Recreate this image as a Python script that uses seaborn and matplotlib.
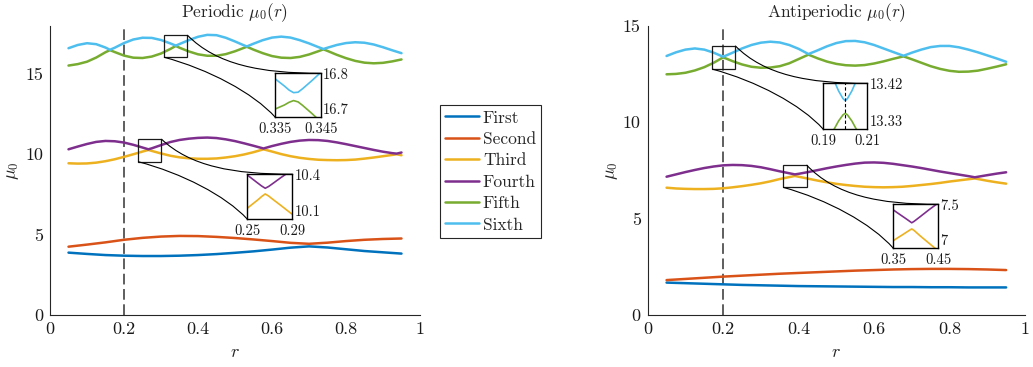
import matplotlib
matplotlib.use("Agg")
import matplotlib.pyplot as plt
import seaborn as sns
import pandas as pd
from matplotlib.path import Path
from matplotlib.patches import PathPatch, Rectangle
from matplotlib.lines import Line2D

# ---------------- data ----------------
BANDS = ["First", "Second", "Third", "Fourth", "Fifth", "Sixth"]
COLORS = ["#0072BD", "#D95319", "#EDB120", "#7E2F8E", "#77AC30", "#4DBEEE"]

XTICKS = [0, 0.2, 0.4, 0.6, 0.8, 1]
XTICK_LABELS = ["0", "0.2", "0.4", "0.6", "0.8", "1"]
YTICKS = [0, 5, 10, 15]
YTICK_LABELS = ["0", "5", "10", "15"]

r_slow = [0.05, 0.10, 0.15, 0.20, 0.25, 0.30, 0.35, 0.40, 0.45, 0.50,
          0.55, 0.60, 0.65, 0.70, 0.75, 0.80, 0.85, 0.90, 0.95]

# Periodic
per_first = [3.88, 3.80, 3.73, 3.69, 3.67, 3.67, 3.69, 3.73, 3.79, 3.87,
             3.96, 4.07, 4.19, 4.27, 4.20, 4.09, 3.98, 3.90, 3.82]
per_second = [4.25, 4.38, 4.52, 4.68, 4.80, 4.88, 4.92, 4.91, 4.86, 4.79,
              4.70, 4.60, 4.49, 4.43, 4.50, 4.60, 4.68, 4.73, 4.76]

r_per34 = [0.05, 0.075, 0.1, 0.125, 0.15, 0.175, 0.2, 0.225, 0.25, 0.266,
           0.275, 0.3, 0.325, 0.35, 0.375, 0.4, 0.425, 0.45, 0.475, 0.5,
           0.525, 0.55, 0.577, 0.6, 0.625, 0.65, 0.675, 0.7, 0.725, 0.75,
           0.775, 0.8, 0.825, 0.85, 0.875, 0.9, 0.925, 0.937, 0.95]
per_third = [9.44, 9.42, 9.43, 9.48, 9.57, 9.69, 9.84, 10.00, 10.17, 10.27,
             10.21, 10.05, 9.91, 9.81, 9.75, 9.72, 9.72, 9.74, 9.80, 9.88,
             9.99, 10.13, 10.31, 10.17, 10.01, 9.88, 9.78, 9.71, 9.66, 9.64,
             9.63, 9.64, 9.67, 9.73, 9.80, 9.88, 9.96, 10.00, 9.94]
per_fourth = [10.31, 10.48, 10.64, 10.77, 10.83, 10.81, 10.73, 10.59, 10.42, 10.31,
              10.37, 10.57, 10.76, 10.89, 10.97, 11.02, 11.04, 11.01, 10.93, 10.82,
              10.68, 10.53, 10.36, 10.51, 10.65, 10.77, 10.85, 10.89, 10.88, 10.83,
              10.74, 10.63, 10.51, 10.39, 10.27, 10.16, 10.07, 10.04, 10.11]

r_per56 = [0.05, 0.075, 0.1, 0.125, 0.15, 0.162, 0.175, 0.2, 0.225, 0.25,
           0.275, 0.3, 0.325, 0.34, 0.35, 0.375, 0.4, 0.425, 0.45, 0.475,
           0.5, 0.525, 0.532, 0.55, 0.575, 0.6, 0.625, 0.65, 0.675, 0.7,
           0.725, 0.739, 0.75, 0.775, 0.8, 0.825, 0.85, 0.875, 0.9, 0.925, 0.95]
per_fifth = [15.52, 15.61, 15.76, 16.02, 16.35, 16.48, 16.36, 16.14, 16.01, 15.99,
             16.08, 16.27, 16.55, 16.74, 16.63, 16.40, 16.22, 16.13, 16.13, 16.23,
             16.41, 16.63, 16.69, 16.51, 16.29, 16.11, 16.01, 15.99, 16.06, 16.21,
             16.41, 16.53, 16.43, 16.19, 15.98, 15.81, 15.70, 15.66, 15.69, 15.78, 15.90]
per_sixth = [16.60, 16.80, 16.91, 16.85, 16.64, 16.50, 16.63, 16.92, 17.14, 17.25,
             17.24, 17.11, 16.90, 16.76, 16.86, 17.10, 17.31, 17.43, 17.41, 17.25,
             17.02, 16.77, 16.71, 16.88, 17.10, 17.26, 17.32, 17.26, 17.10, 16.90,
             16.67, 16.55, 16.63, 16.80, 16.92, 16.97, 16.94, 16.83, 16.66, 16.47, 16.29]

# Antiperiodic
anti_first = [1.68, 1.65, 1.62, 1.59, 1.56, 1.54, 1.52, 1.50, 1.49, 1.48,
              1.47, 1.46, 1.45, 1.45, 1.44, 1.44, 1.43, 1.43, 1.43]
anti_second = [1.81, 1.87, 1.93, 1.99, 2.04, 2.09, 2.14, 2.18, 2.22, 2.26,
               2.30, 2.33, 2.36, 2.38, 2.39, 2.39, 2.38, 2.36, 2.33]

r_anti34 = [0.05, 0.075, 0.1, 0.125, 0.15, 0.175, 0.2, 0.225, 0.25, 0.275,
            0.3, 0.325, 0.35, 0.375, 0.39, 0.4, 0.425, 0.45, 0.475, 0.5,
            0.525, 0.55, 0.575, 0.6, 0.625, 0.65, 0.675, 0.7, 0.725, 0.75,
            0.775, 0.8, 0.825, 0.85, 0.867, 0.9, 0.925, 0.95]
anti_third = [6.60, 6.56, 6.54, 6.53, 6.53, 6.54, 6.57, 6.62, 6.68, 6.75,
              6.83, 6.93, 7.05, 7.15, 7.21, 7.17, 7.07, 6.97, 6.88, 6.80,
              6.74, 6.69, 6.65, 6.63, 6.62, 6.63, 6.65, 6.69, 6.74, 6.79,
              6.85, 6.92, 6.98, 7.04, 7.08, 6.96, 6.88, 6.81]
anti_fourth = [7.17, 7.29, 7.41, 7.52, 7.62, 7.70, 7.76, 7.78, 7.77, 7.73,
               7.66, 7.56, 7.45, 7.35, 7.29, 7.32, 7.41, 7.51, 7.61, 7.70,
               7.78, 7.85, 7.90, 7.91, 7.89, 7.84, 7.77, 7.70, 7.62, 7.53,
               7.44, 7.36, 7.28, 7.20, 7.14, 7.25, 7.33, 7.40]

r_anti56 = [0.05, 0.075, 0.1, 0.125, 0.15, 0.175, 0.2, 0.225, 0.25, 0.275,
            0.3, 0.325, 0.35, 0.375, 0.4, 0.426, 0.45, 0.475, 0.5, 0.525,
            0.55, 0.575, 0.6, 0.625, 0.65, 0.678, 0.7, 0.725, 0.75, 0.775,
            0.8, 0.825, 0.85, 0.875, 0.9, 0.925, 0.95]
anti_fifth = [12.48, 12.50, 12.56, 12.68, 12.85, 13.08, 13.36, 13.16, 12.99, 12.87,
              12.82, 12.83, 12.90, 13.05, 13.27, 13.50, 13.31, 13.14, 13.02, 12.95,
              12.93, 12.96, 13.04, 13.15, 13.28, 13.41, 13.26, 13.08, 12.90, 12.76,
              12.66, 12.61, 12.62, 12.67, 12.77, 12.88, 13.00]
anti_sixth = [13.43, 13.62, 13.76, 13.82, 13.76, 13.60, 13.39, 13.60, 13.82, 14.00,
              14.12, 14.17, 14.13, 14.00, 13.80, 13.53, 13.72, 13.93, 14.10, 14.20,
              14.21, 14.14, 14.00, 13.82, 13.64, 13.44, 13.60, 13.76, 13.89, 13.95,
              13.95, 13.88, 13.76, 13.62, 13.46, 13.30, 13.13]

# Zoomed insets
ins_per34_r = [0.25, 0.255, 0.26, 0.263, 0.266, 0.269, 0.272, 0.28, 0.29]
ins_per34_third = [10.172, 10.202, 10.232, 10.252, 10.268, 10.254, 10.236, 10.19, 10.131]
ins_per34_fourth = [10.395, 10.366, 10.337, 10.320, 10.306, 10.318, 10.334, 10.378, 10.43]
ins_per34_xlab = ["0.25", "0.29"]
ins_per34_ylab = ["10.1", "10.4"]

ins_per56_r = [0.335, 0.337, 0.338, 0.339, 0.340, 0.341, 0.343, 0.345]
ins_per56_fifth = [16.719, 16.728, 16.734, 16.738, 16.735, 16.727, 16.709, 16.69]
ins_per56_sixth = [16.787, 16.771, 16.762, 16.756, 16.757, 16.765, 16.783, 16.802]
ins_per56_xlab = ["0.335", "0.345"]
ins_per56_ylab = ["16.7", "16.8"]

ins_anti34_r = [0.35, 0.36, 0.37, 0.38, 0.386, 0.391, 0.396, 0.41, 0.43, 0.45]
ins_anti34_third = [7.087, 7.12, 7.152, 7.185, 7.205, 7.22, 7.204, 7.14, 7.055, 6.97]
ins_anti34_fourth = [7.436, 7.40, 7.365, 7.33, 7.308, 7.29, 7.305, 7.36, 7.44, 7.515]
ins_anti34_xlab = ["0.35", "0.45"]
ins_anti34_ylab = ["7", "7.5"]

ins_anti56_r = [0.19, 0.195, 0.197, 0.199, 0.2, 0.201, 0.203, 0.205, 0.21]
ins_anti56_fifth = [13.29, 13.33, 13.346, 13.358, 13.361, 13.358, 13.346, 13.33, 13.29]
ins_anti56_sixth = [13.47, 13.425, 13.405, 13.39, 13.386, 13.39, 13.405, 13.425, 13.47]
ins_anti56_xlab = ["0.19", "0.21"]
ins_anti56_ylab = ["13.33", "13.42"]

R_MARK = 0.2

# ---------------- style ----------------
sns.set_theme(style="white")
plt.rcParams["font.family"] = ["cmr10", "DejaVu Serif"]
plt.rcParams["mathtext.fontset"] = "cm"
plt.rcParams["axes.formatter.use_mathtext"] = True
plt.rcParams["axes.unicode_minus"] = False

AXC = "0.15"
LW = 1.8

fig = plt.figure(figsize=(10.33, 3.67), dpi=100)
W, H = 1033, 367
axL = fig.add_axes([50 / W, 1 - 315 / H, 370 / W, 289.3 / H])
axR = fig.add_axes([647.7 / W, 1 - 315 / H, 377.3 / W, 289.3 / H])


def long_df(parts):
    frames = []
    for band, r, mu in parts:
        frames.append(pd.DataFrame({"r": r, "mu": mu, "band": band}))
    return pd.concat(frames, ignore_index=True)


def draw_panel(ax, df, ymax, title, ylabpad):
    sns.lineplot(data=df, x="r", y="mu", hue="band", hue_order=BANDS,
                 palette=dict(zip(BANDS, COLORS)), estimator=None, sort=True,
                 lw=LW, legend=False, ax=ax, zorder=3)
    ax.axvline(R_MARK, color="0.2", lw=1.1, ls=(0, (7, 3)), zorder=2)
    ax.set_xlim(0, 1)
    ax.set_ylim(0, ymax)
    ax.set_xticks(XTICKS)
    ax.set_xticklabels(XTICK_LABELS)
    ax.set_yticks(YTICKS)
    ax.set_yticklabels(YTICK_LABELS)
    ax.tick_params(direction="in", length=3, width=0.7, color=AXC,
                   labelsize=13, labelcolor="0.1", pad=5)
    for s in ["top", "right"]:
        ax.spines[s].set_visible(False)
    for s in ["left", "bottom"]:
        ax.spines[s].set_color(AXC)
        ax.spines[s].set_linewidth(0.8)
    ax.set_xlabel("$r$", fontsize=13, labelpad=5)
    ax.set_ylabel(r"$\mu_0$", fontsize=13, labelpad=ylabpad)
    ax.set_title(title, fontsize=12.5, pad=6)


def connector(ax, A, B, kind):
    dx, dy = B[0] - A[0], B[1] - A[1]
    if kind == "top":
        P1 = (A[0] + 0.22 * dx, A[1] + 0.78 * dy)
        P2 = (B[0] - 0.45 * dx, B[1])
    else:
        P1 = (A[0] + 0.40 * dx, A[1] + 0.20 * dy)
        P2 = (B[0] - 0.20 * dx, B[1] - 0.41 * dy)
    path = Path([A, P1, P2, B], [Path.MOVETO, Path.CURVE4, Path.CURVE4, Path.CURVE4])
    ax.add_patch(PathPatch(path, fc="none", ec="black", lw=0.8, zorder=4, clip_on=False))


def zoom_inset(ax, src, dst, r, lo, hi, c_lo, c_hi, xlim, ylim, xlab, ylab, mark=False):
    # src: (x0, y0, x1, y1) of magnifier box; dst: (x0, y0, w, h) of inset
    x0, y0, x1, y1 = src
    ax.add_patch(Rectangle((x0, y0), x1 - x0, y1 - y0, fc="none", ec="0.1",
                           lw=0.9, zorder=4))
    dx0, dy0, dw, dh = dst
    connector(ax, (x1, y1), (dx0 + dw, dy0 + dh), "top")
    connector(ax, (x0, y0), (dx0, dy0), "bottom")
    ins = ax.inset_axes([dx0, dy0, dw, dh], transform=ax.transData)
    sns.lineplot(x=r, y=hi, color=c_hi, lw=1.2, ax=ins, estimator=None, sort=False)
    sns.lineplot(x=r, y=lo, color=c_lo, lw=1.2, ax=ins, estimator=None, sort=False)
    if mark:
        ins.axvline(R_MARK, color="black", lw=0.8, ls=(0, (3, 2)))
    ins.set_xlim(*xlim)
    ins.set_ylim(*ylim)
    ins.set_xticks(list(xlim))
    ins.set_xticklabels(xlab)
    ins.set_yticks(list(ylim))
    ins.set_yticklabels(ylab)
    ins.yaxis.tick_right()
    ins.tick_params(axis="x", length=0, labelsize=10.5, pad=3.5, labelcolor="0.1")
    ins.tick_params(axis="y", length=0, labelsize=10.5, pad=1.5, labelcolor="0.1")
    lbls = ins.get_yticklabels()
    lbls[0].set_verticalalignment("bottom")
    ins.set_xlabel("")
    ins.set_ylabel("")
    for s in ins.spines.values():
        s.set_visible(True)
        s.set_color("black")
        s.set_linewidth(1.0)
    ins.set_facecolor("white")


# ---------------- periodic ----------------
dfL = long_df([("First", r_slow, per_first), ("Second", r_slow, per_second),
               ("Third", r_per34, per_third), ("Fourth", r_per34, per_fourth),
               ("Fifth", r_per56, per_fifth), ("Sixth", r_per56, per_sixth)])
draw_panel(axL, dfL, 18, r"Periodic $\mu_0(r)$", 3)
zoom_inset(axL, (0.308, 16.04, 0.371, 17.42), (0.609, 12.30, 0.123, 2.74),
           ins_per56_r, ins_per56_fifth, ins_per56_sixth, COLORS[4], COLORS[5],
           (0.335, 0.345), (16.7, 16.8), ins_per56_xlab, ins_per56_ylab)
zoom_inset(axL, (0.238, 9.54, 0.301, 10.95), (0.533, 5.97, 0.122, 2.79),
           ins_per34_r, ins_per34_third, ins_per34_fourth, COLORS[2], COLORS[3],
           (0.25, 0.29), (10.1, 10.4), ins_per34_xlab, ins_per34_ylab)

# ---------------- antiperiodic ----------------
dfR = long_df([("First", r_slow, anti_first), ("Second", r_slow, anti_second),
               ("Third", r_anti34, anti_third), ("Fourth", r_anti34, anti_fourth),
               ("Fifth", r_anti56, anti_fifth), ("Sixth", r_anti56, anti_sixth)])
draw_panel(axR, dfR, 15, r"Antiperiodic $\mu_0(r)$", 2)
zoom_inset(axR, (0.171, 12.75, 0.232, 13.96), (0.465, 9.64, 0.117, 2.37),
           ins_anti56_r, ins_anti56_fifth, ins_anti56_sixth, COLORS[4], COLORS[5],
           (0.19, 0.21), (13.33, 13.42), ins_anti56_xlab, ins_anti56_ylab, mark=True)
zoom_inset(axR, (0.359, 6.62, 0.421, 7.78), (0.651, 3.46, 0.119, 2.28),
           ins_anti34_r, ins_anti34_third, ins_anti34_fourth, COLORS[2], COLORS[3],
           (0.35, 0.45), (7.0, 7.5), ins_anti34_xlab, ins_anti34_ylab)

# ---------------- legend ----------------
handles = [Line2D([], [], color=c, lw=LW) for c in COLORS]
leg = fig.legend(handles, BANDS, loc="upper left",
                 bbox_to_anchor=(439.5 / W, 1 - 105 / H), bbox_transform=fig.transFigure,
                 frameon=True, fancybox=False, framealpha=1, edgecolor="0.15",
                 borderaxespad=0, handlelength=2.0, handletextpad=0.2,
                 labelspacing=0.35, borderpad=0.3, fontsize=12.5)
leg.get_frame().set_linewidth(0.8)

fig.savefig("out.png", dpi=100)
